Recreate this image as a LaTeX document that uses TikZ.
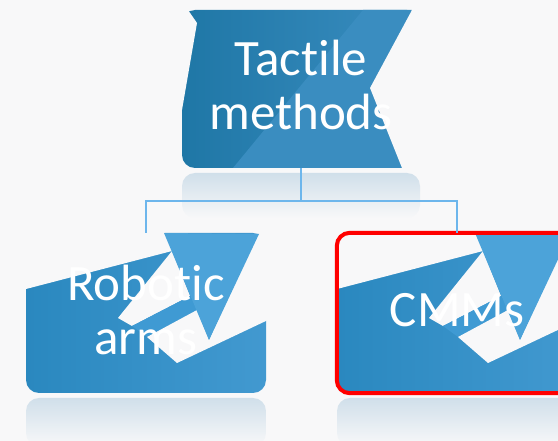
\documentclass[tikz,border=0pt]{standalone}
\usepackage{fontspec}
\setmainfont[Ligatures={NoCommon,NoRare}]{Carlito}
\usetikzlibrary{calc}
\definecolor{backdrop}{HTML}{F8F8F9}
\definecolor{boxdark}{HTML}{1F77A6}
\definecolor{boxmid}{HTML}{3A8DC0}
\definecolor{armleft}{HTML}{2A88BF}
\definecolor{armright}{HTML}{4299D0}
\definecolor{shard}{HTML}{4CA3D9}
\definecolor{band}{HTML}{3F9AD3}
\definecolor{linkblue}{HTML}{6DB6EC}
\definecolor{mirrorblue}{HTML}{D0DFEA}
\definecolor{alertred}{HTML}{FF0000}
\tikzset{
    box/.style={rounded corners=13pt, minimum width=240pt, minimum height=160pt, inner sep=0pt},
    mirror/.style={rounded corners=13pt, top color=mirrorblue, bottom color=backdrop},
    txt/.style={text=white, align=center, font=\fontsize{51}{54}\selectfont},
    link/.style={draw=linkblue, line width=2pt},
    gap/.style={fill=backdrop},
}

\begin{document}
\begin{tikzpicture}[x=1pt, y=-1pt]
        \fill[backdrop] (0,0) rectangle (558,441);
        \useasboundingbox (0,0) rectangle (558,441);

        \shade[mirror] (182,173) rectangle (420,218);
        \shade[mirror] (26,398) rectangle (266,446);
        \shade[mirror] (337,398) rectangle (577,446);

        \node[box, minimum width=238pt, minimum height=158pt, left color=boxdark, right color=boxmid] (top) at (301,89) {};
        \fill[boxmid] (363,10) -- (412,10) -- (370,88) -- (402,168) -- (233,168) -- cycle;
        \fill[gap] (410,6) -- (424,6) -- (424,172) -- (402,168) -- (370,88) -- (412,10) -- cycle;
        \fill[gap] (178,6) -- (188,10) -- (197,23) -- (182,110) -- (178,110) -- cycle;

        \node[box, left color=armleft, right color=armright] (robot) at (146,313) {};
        \node[box, left color=armleft, right color=armright] (cmm) at (457,313) {};

        \foreach \dx in {0,311}
        {
            \begin{scope}[xshift=\dx pt]
                \fill[gap] (24,231) -- (164,231) -- (172,251) -- (26,289) -- (24,289) -- cycle;
                \fill[gap] (172,251) -- (118,318) -- (132,326) -- (190,296) -- cycle;
                \fill[band] (132,326) -- (190,296) -- (197,310) -- (147,337) -- cycle;
                \fill[gap] (147,337) -- (197,310) -- (209,340) -- (259,231) -- (268,231) -- (268,320) -- (177,363) -- cycle;
                \fill[shard] (164,233) -- (259,234) -- (209,340) -- cycle;
            \end{scope}
        }
        \draw[alertred, line width=4pt, rounded corners=13pt] (cmm.north west) rectangle (cmm.south east);

        \draw[link] (top.south) -- ++(0,33) coordinate (bus) -| (robot.north);
        \draw[link] (bus) -| (cmm.north);

        \node[txt] (toplabel) at (301,85) {Tactile\\methods};
        \node[txt] (robotlabel) at (146,310) {Robotic\\arms};
        \node[txt] (cmmlabel) at (457,310) {CMMs};
    \end{tikzpicture}
\end{document}
